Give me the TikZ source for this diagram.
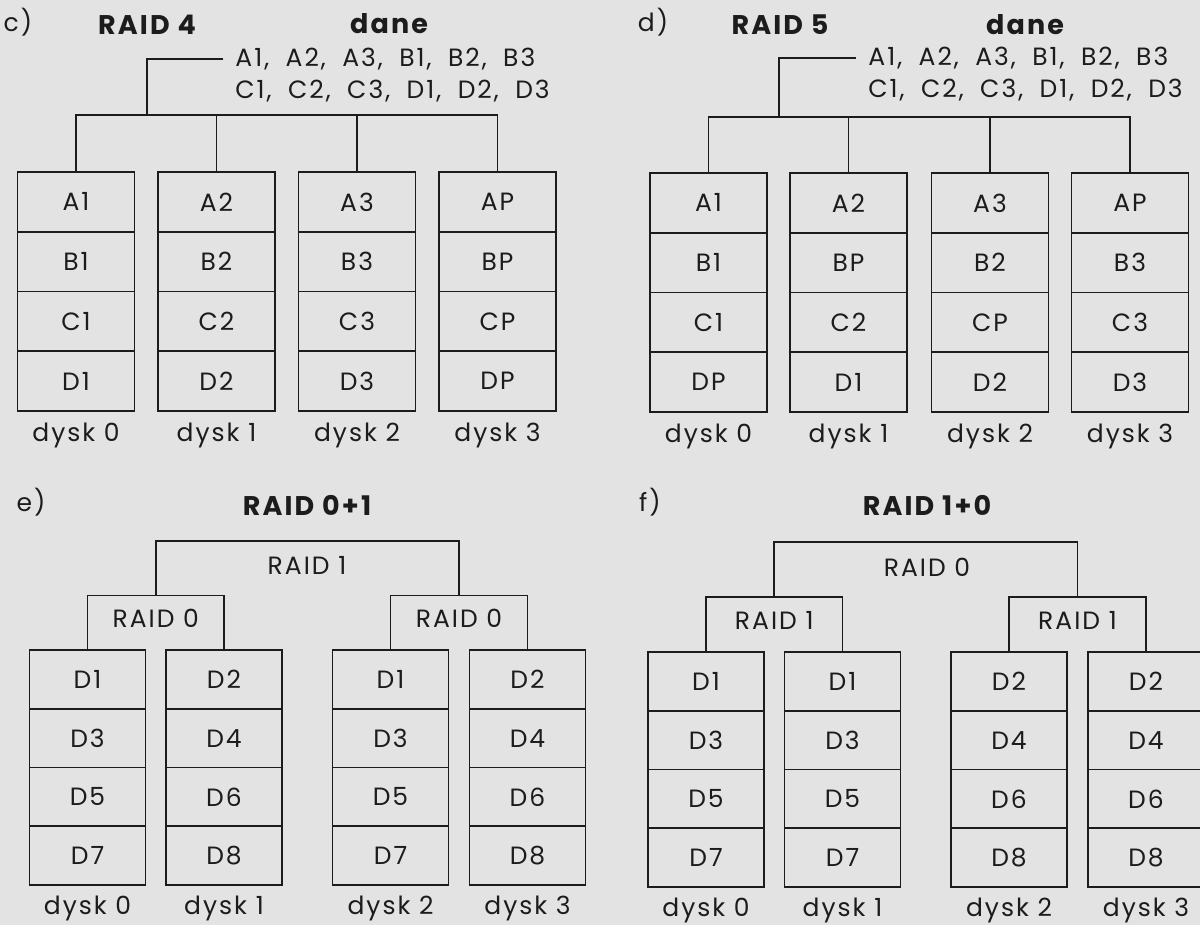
\documentclass[tikz,border=0pt]{standalone}
\usepackage{fontspec}
\setmainfont{Poppins}[LetterSpace=8]
\newfontfamily\datafont{Poppins}[LetterSpace=8,WordSpace=1.9]
\usetikzlibrary{positioning}
\definecolor{paper}{RGB}{227,227,227}
\definecolor{ink}{RGB}{28,28,28}

\tikzset{
  cell/.style={draw=ink, line width=0.8pt, minimum width=58.5pt, minimum height=29.9pt,
    inner sep=0pt, text=ink, font=\fontsize{12.5}{15}\selectfont},
  lbl/.style={inner sep=0pt, text=ink, font=\fontsize{12.5}{15}\selectfont},
  ttl/.style={inner sep=0pt, text=ink, font=\fontsize{13.5}{16}\selectfont\bfseries},
  datatext/.style={lbl, anchor=west, inner xsep=6pt,
    font=\datafont\fontsize{12.5}{15}\selectfont},
  wire/.style={draw=ink, line width=0.8pt},
}

\begin{document}
\begin{tikzpicture}[x=0.5pt,y=-0.5pt]
  \fill[paper] (0,0) rectangle (1200,925);
  \useasboundingbox (0,0) rectangle (1200,925);

  % c) RAID 4
  \node[lbl] (cmark) at (18,22) {c)};
  \node[ttl] (ctitle) at (147,25) {RAID 4};
  \node[ttl] (cdane) at (389,24) {dane};
  \node[datatext] (cdata1) at (223,59) {A1, A2, A3, B1, B2, B3};
  \node[datatext] (cdata2) at (223,91) {C1, C2, C3, D1, D2, D3};
  \foreach \col/\x/\a/\b/\c/\d in {0/76/A1/B1/C1/D1, 1/216.5/A2/B2/C2/D2,
      2/357/A3/B3/C3/D3, 3/497.5/AP/BP/CP/DP}{
    \foreach \t [count=\r] in {\a,\b,\c,\d}
      \node[cell] (c\col-\r) at (\x,{172+(\r-0.5)*59.75}) {\t};
    \node[lbl] (cdisk\col) at (\x,435) {dysk \col};
  }
  \coordinate (cbus) at (147,115);
  \draw[wire] (cdata1.west) -| (cbus);
  \draw[wire] (c0-1.north) |- (cbus) -| (c3-1.north);
  \foreach \col in {1,2}
    \draw[wire] (c\col-1.north) -- (c\col-1.north |- cbus);

  % d) RAID 5
  \node[lbl] (dmark) at (653,22) {d)};
  \node[ttl] (dtitle) at (780,25) {RAID 5};
  \node[ttl] (ddane) at (1025,25) {dane};
  \node[datatext] (ddata1) at (856,58) {A1, A2, A3, B1, B2, B3};
  \node[datatext] (ddata2) at (856,90) {C1, C2, C3, D1, D2, D3};
  \foreach \col/\x/\a/\b/\c/\d in {0/708.5/A1/B1/C1/DP, 1/848.5/A2/BP/C2/D1,
      2/990/A3/B2/CP/D2, 3/1130/AP/B3/C3/D3}{
    \foreach \t [count=\r] in {\a,\b,\c,\d}
      \node[cell] (d\col-\r) at (\x,{173+(\r-0.5)*59.75}) {\t};
    \node[lbl] (ddisk\col) at (\x,436) {dysk \col};
  }
  \coordinate (dbus) at (779,117);
  \draw[wire] (ddata1.west) -| (dbus);
  \draw[wire] (d0-1.north) |- (dbus) -| (d3-1.north);
  \foreach \col in {1,2}
    \draw[wire] (d\col-1.north) -- (d\col-1.north |- dbus);

  % e) RAID 0+1
  \node[lbl] (emark) at (31,502) {e)};
  \node[ttl] (etitle) at (307,505) {RAID 0+1};
  \foreach \col/\x/\a/\b/\c/\d in {0/87.5/D1/D3/D5/D7, 1/224/D2/D4/D6/D8,
      2/390.5/D1/D3/D5/D7, 3/527.5/D2/D4/D6/D8}{
    \foreach \t [count=\r] in {\a,\b,\c,\d}
      \node[cell, minimum width=58pt, minimum height=29.4pt] (e\col-\r) at (\x,{650+(\r-0.5)*58.75}) {\t};
    \node[lbl] (edisk\col) at (\x,908) {dysk \col};
  }
  \coordinate (estripeL) at (155.75,595.5);
  \coordinate (estripeR) at (459,595.5);
  \coordinate (emirror) at (307,541);
  \draw[wire] (e0-1.north) |- (estripeL) -| (e1-1.north);
  \draw[wire] (e2-1.north) |- (estripeR) -| (e3-1.north);
  \draw[wire] (estripeL) |- (emirror) -| (estripeR);
  \node[lbl] (estripeLtxt) at (155.75,618) {RAID 0};
  \node[lbl] (estripeRtxt) at (459,618) {RAID 0};
  \node[lbl] (emirrortxt) at (307,565) {RAID 1};

  % f) RAID 1+0
  \node[lbl] (fmark) at (650,502) {f)};
  \node[ttl] (ftitle) at (927,505) {RAID 1+0};
  \foreach \col/\x/\a/\b/\c/\d in {0/706/D1/D3/D5/D7, 1/842.5/D1/D3/D5/D7,
      2/1009/D2/D4/D6/D8, 3/1146/D2/D4/D6/D8}{
    \foreach \t [count=\r] in {\a,\b,\c,\d}
      \node[cell, minimum width=58pt, minimum height=29.4pt] (f\col-\r) at (\x,{652+(\r-0.5)*58.75}) {\t};
    \node[lbl] (fdisk\col) at (\x,910) {dysk \col};
  }
  \coordinate (fmirrorL) at (774.25,597);
  \coordinate (fmirrorR) at (1077.5,597);
  \coordinate (fstripe) at (927,542);
  \draw[wire] (f0-1.north) |- (fmirrorL) -| (f1-1.north);
  \draw[wire] (f2-1.north) |- (fmirrorR) -| (f3-1.north);
  \draw[wire] (fmirrorL) |- (fstripe) -| (fmirrorR);
  \node[lbl] (fmirrorLtxt) at (774.25,620) {RAID 1};
  \node[lbl] (fmirrorRtxt) at (1077.5,620) {RAID 1};
  \node[lbl] (fstripetxt) at (927,567) {RAID 0};
\end{tikzpicture}
\end{document}
